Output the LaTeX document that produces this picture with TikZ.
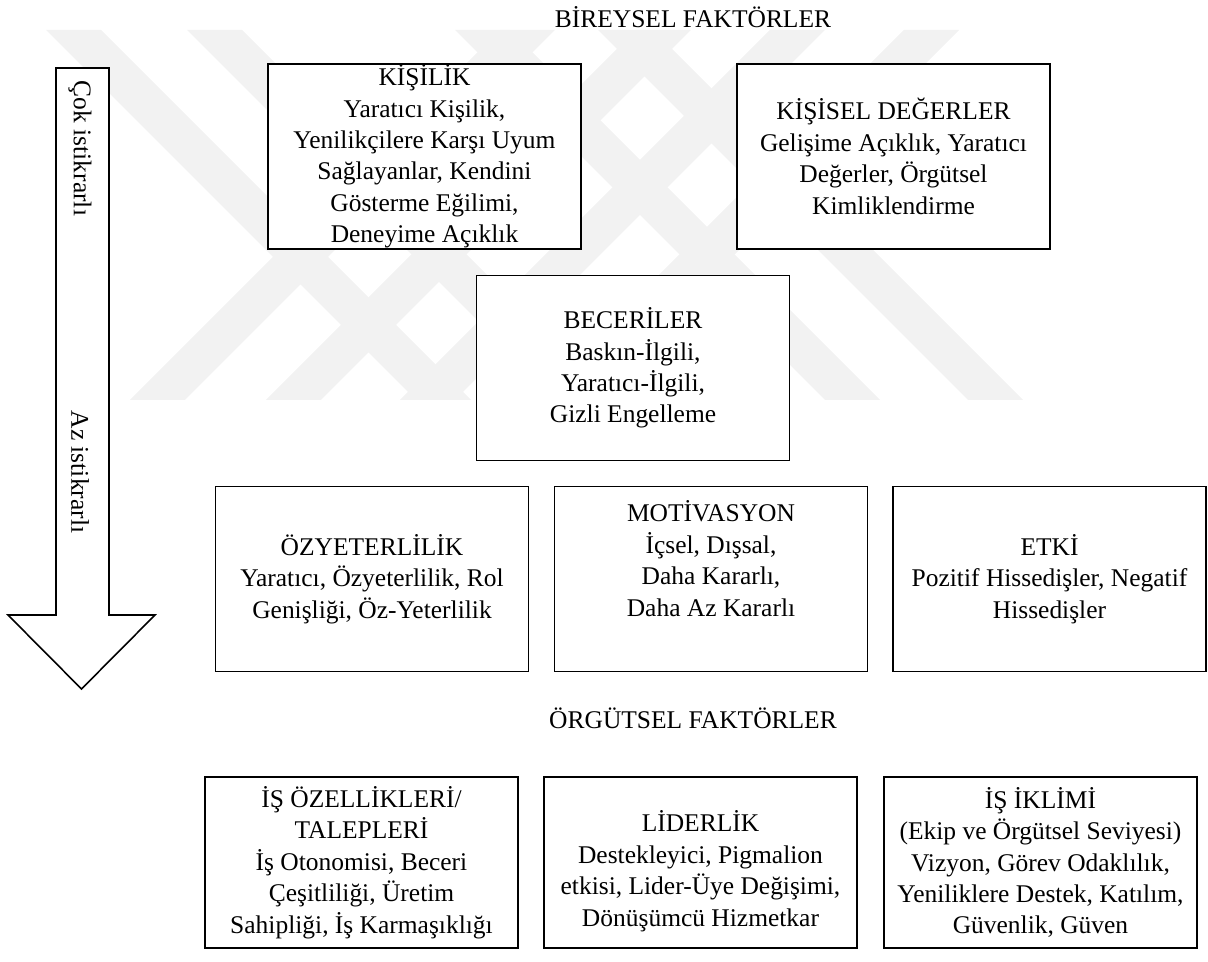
\documentclass[tikz,border=0pt]{standalone}
\usepackage{fontspec}
\setmainfont{Liberation Serif}

\tikzset{
  factor/.style={draw, line width=0.9pt, fill=white, align=center, inner sep=0pt,
    minimum width=6.26cm, minimum height=3.7cm, font=\fontsize{14.5}{17.9}\selectfont},
  lowfactor/.style={factor, minimum height=3.42cm},
  heading/.style={font=\fontsize{14.5}{17.9}\selectfont},
}

\begin{document}
\begin{tikzpicture}[x=0.02cm, y=-0.02cm]
            \useasboundingbox (0,0) rectangle (1208,962);

            % Watermark stripes
            \begin{scope}
                \clip (0,30) rectangle (1208,400);
                \foreach \a in {46,187,455,598}
                    \fill[black!5] (\a,30) -- ++(55,0) -- ++(370,370) -- ++(-55,0) -- cycle;
                \foreach \a in {500,636,770,904}
                    \fill[black!5] (\a,30) -- ++(55,0) -- ++(-370,370) -- ++(-55,0) -- cycle;
            \end{scope}

            % Headings
            \node[heading] (bireysel) at (693,17) {BİREYSEL FAKTÖRLER};
            \node[heading] (orgutsel) at (693,718) {ÖRGÜTSEL FAKTÖRLER};

            % Stability arrow
            \draw[line width=0.9pt, fill=white] (56,68) -- (109,68) -- (109,615) -- (155,615)
                -- (81.5,689) -- (8,615) -- (56,615) -- cycle;
            \node[heading, rotate=-90] (cok) at (80,148.5) {Çok istikrarlı};
            \node[heading, rotate=-90] (az) at (80,472) {Az istikrarlı};

            % Individual factors
            \node[factor] (kisilik) at (424.5,156.5) {KİŞİLİK\\ Yaratıcı Kişilik,\\ Yenilikçilere Karşı Uyum\\
                Sağlayanlar, Kendini\\ Gösterme Eğilimi,\\ Deneyime Açıklık};
            \node[factor] (degerler) at (893.5,156.5) {KİŞİSEL DEĞERLER\\ Gelişime Açıklık, Yaratıcı\\
                Değerler, Örgütsel\\ Kimliklendirme};
            \node[factor] (beceriler) at (633,368) {BECERİLER\\ Baskın-İlgili,\\ Yaratıcı-İlgili,\\ Gizli Engelleme};

            \node[factor] (ozyeterlilik) at (372,579) {ÖZYETERLİLİK\\ Yaratıcı, Özyeterlilik, Rol\\
                Genişliği, Öz-Yeterlilik};
            \node[factor] (motivasyon) at (711,579) {MOTİVASYON\\ İçsel, Dışsal,\\ Daha Kararlı,\\
                Daha Az Kararlı\\ \strut};
            \node[factor] (etki) at (1049.5,579) {ETKİ\\ Pozitif Hissedişler, Negatif\\ Hissedişler};

            % Organisational factors
            \node[lowfactor] (isozellik) at (361.5,862.5) {İŞ ÖZELLİKLERİ/\\ TALEPLERİ\\
                İş Otonomisi, Beceri\\ Çeşitliliği, Üretim\\ Sahipliği, İş Karmaşıklığı};
            \node[lowfactor] (liderlik) at (700.5,862.5) {\rule{0pt}{22pt}LİDERLİK\\ Destekleyici, Pigmalion\\
                etkisi, Lider-Üye Değişimi,\\ Dönüşümcü Hizmetkar};
            \node[lowfactor] (iklim) at (1040.5,862.5) {İŞ İKLİMİ\\ (Ekip ve Örgütsel Seviyesi)\\
                Vizyon, Görev Odaklılık,\\ Yeniliklere Destek, Katılım,\\ Güvenlik, Güven};

        \end{tikzpicture}
\end{document}
